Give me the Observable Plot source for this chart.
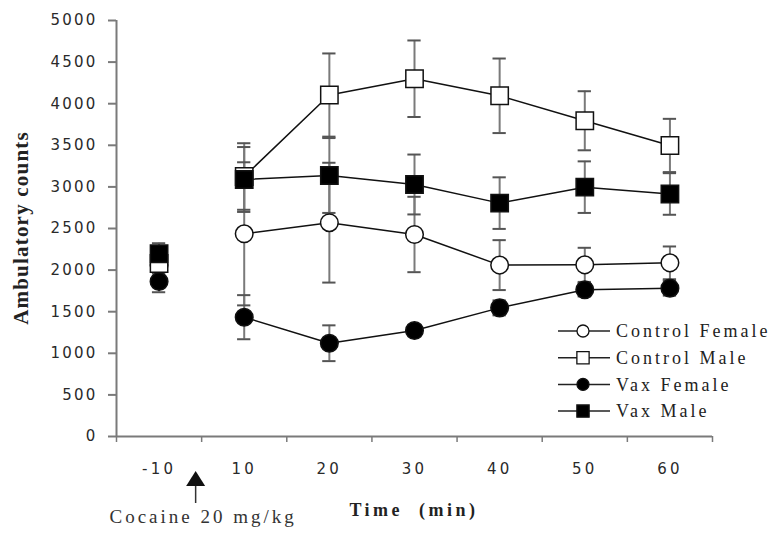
<!DOCTYPE html>
<html><head><meta charset="utf-8">
<script src="https://cdn.jsdelivr.net/npm/d3@7"></script>
<script src="https://cdn.jsdelivr.net/npm/@observablehq/plot@0.6"></script>
<style>
html,body{margin:0;padding:0;background:#fff;}
#chart{position:relative;width:782px;height:542px;}
g[aria-label="y-axis tick label"] text {
  letter-spacing:2.2px; font-family:'DejaVu Sans',Verdana,sans-serif !important; font-size:15px !important;}
g[aria-label="x-axis tick label"] text {
  letter-spacing:3.2px; font-family:'DejaVu Sans',Verdana,sans-serif !important; font-size:15px !important;}
</style></head><body><div id="chart"></div>
<script>
// ---- data ----
const times = ["-10","10","20","30","40","50","60"];
const seriesNames = ["Control Female","Control Male","Vax Female","Vax Male"];
const controlFemale    = [2060, 2436, 2570, 2428, 2060, 2063, 2087];
const controlFemaleErr = [ 100,  860,  720,  453,  300,  205,  197];
const controlMale      = [2080, 3125, 4104, 4300, 4095, 3795, 3498];
const controlMaleErr   = [ 100,  400,  500,  460,  448,  355,  320];
const vaxFemale        = [1863, 1434, 1121, 1274, 1546, 1763, 1783];
const vaxFemaleErr     = [ 129,  265,  215,   60,   90,   80,   90];
const vaxMale          = [2197, 3089, 3137, 3029, 2805, 2997, 2915];
const vaxMaleErr       = [ 126,  390,  450,  360,  310,  310,  250];
const yTicks = [0,500,1000,1500,2000,2500,3000,3500,4000,4500,5000];
const yTitle = "Ambulatory counts";
const xTitle = "Time  (min)";
const arrowLabel = "Cocaine 20 mg/kg";

const valueSets = {
  "Control Female": [controlFemale, controlFemaleErr],
  "Control Male": [controlMale, controlMaleErr],
  "Vax Female": [vaxFemale, vaxFemaleErr],
  "Vax Male": [vaxMale, vaxMaleErr]
};
const data = [];
seriesNames.forEach(s => times.forEach((t, i) => data.push({
  series: s, time: t, pos: i + 0.5, value: valueSets[s][0][i], err: valueSets[s][1][i]
})));

const style = {
  "Control Female": {symbol: "circle", fill: "white", r: 8.8},
  "Control Male":   {symbol: "square", fill: "white", r: 9.8},
  "Vax Female":     {symbol: "circle", fill: "black", r: 8.8},
  "Vax Male":       {symbol: "square", fill: "black", r: 9.8}
};
const capHalf = 0.078;
const grey = "#7a7a7a";
const serif = "'Liberation Serif','Times New Roman',serif";
const sans = "'DejaVu Sans',Verdana,sans-serif";

const chart = Plot.plot({
  width: 782, height: 542,
  marginLeft: 116, marginRight: 70, marginTop: 20, marginBottom: 106,
  style: {background: "white", overflow: "visible"},
  x: {type: "linear", domain: [0, times.length], axis: null},
  y: {domain: [0, 5000], axis: null},
  marks: [
    Plot.axisY({ticks: yTicks, tickFormat: d => String(d), tickSize: 8, tickPadding: 11, stroke: grey, strokeWidth: 2,
      fill: "#2a2a2a", fontFamily: sans, fontSize: 15, label: null}),
    Plot.axisX({ticks: d3.range(times.length + 1), tickFormat: () => "", tickSize: 6,
      stroke: grey, strokeWidth: 1.5, label: null}),
    Plot.axisX({ticks: times.map((t, i) => i + 0.5), tickFormat: (d) => times[Math.round(d - 0.5)],
      tickSize: 0, tickPadding: 27, fill: "#2a2a2a", fontFamily: sans, fontSize: 15, label: null}),
    Plot.ruleY([0], {stroke: grey, strokeWidth: 2}),
    Plot.ruleX([0], {stroke: grey, strokeWidth: 2}),
    Plot.ruleX(data, {x: "pos", y1: d => d.value - d.err, y2: d => d.value + d.err, stroke: grey, strokeWidth: 2}),
    Plot.ruleY(data, {y: d => d.value + d.err, x1: d => d.pos - capHalf, x2: d => d.pos + capHalf, stroke: "#555", strokeWidth: 2}),
    Plot.ruleY(data, {y: d => d.value - d.err, x1: d => d.pos - capHalf, x2: d => d.pos + capHalf, stroke: "#555", strokeWidth: 2}),
    Plot.line(data.filter(d => d.time !== "-10"), {x: "pos", y: "value", z: "series", stroke: "#111", strokeWidth: 1.5}),
    ...seriesNames.map(s => Plot.dot(data.filter(d => d.series === s), {
      x: "pos", y: "value", symbol: style[s].symbol, r: style[s].r,
      fill: style[s].fill, stroke: "#111", strokeWidth: 1.5
    }))
  ]
});
document.getElementById("chart").appendChild(chart);

// ---- annotations ----
const xs = chart.scale("x"), ys = chart.scale("y");
const svg = d3.select(chart);
const g = svg.append("g");
const frameLeft = xs.apply(0), frameRight = xs.apply(times.length);
const y0 = ys.apply(0);

g.append("text").text(yTitle)
  .attr("transform", `translate(21,${(ys.apply(0) + ys.apply(5000)) / 2}) rotate(-90)`)
  .attr("text-anchor", "middle").attr("dy", "0.35em")
  .style("font-family", serif).style("font-weight", "bold").style("font-size", "21px")
  .style("letter-spacing", "1.2px").attr("fill", "#222");

g.append("text").text(xTitle)
  .attr("x", (frameLeft + frameRight) / 2).attr("y", y0 + 80)
  .attr("text-anchor", "middle")
  .style("font-family", serif).style("font-weight", "bold").style("font-size", "18px")
  .style("letter-spacing", "3.5px").style("white-space", "pre").attr("fill", "#222");

const ax = xs.apply(1) - 5.5;
g.append("path").attr("d", `M${ax},${y0 + 35} L${ax - 9.5},${y0 + 50} L${ax + 9.5},${y0 + 50} Z`).attr("fill", "#111");
g.append("line").attr("x1", ax).attr("x2", ax).attr("y1", y0 + 50).attr("y2", y0 + 67)
  .attr("stroke", "#333").attr("stroke-width", 1.5);
g.append("text").text(arrowLabel)
  .attr("x", xs.apply(1) + 2).attr("y", y0 + 87).attr("text-anchor", "middle")
  .style("font-family", serif).style("font-size", "19px").style("letter-spacing", "3px").attr("fill", "#333");

// legend
const leg = g.append("g");
seriesNames.forEach((s, i) => {
  const yy = 331 + i * 26.7;
  leg.append("line").attr("x1", 558).attr("x2", 610).attr("y1", yy).attr("y2", yy)
    .attr("stroke", "#222").attr("stroke-width", 1.5);
  const sym = d3.symbol(style[s].symbol === "circle" ? d3.symbolCircle : d3.symbolSquare,
    style[s].symbol === "circle" ? Math.PI * 36 : 150)();
  leg.append("path").attr("d", sym).attr("transform", `translate(583,${yy})`)
    .attr("fill", style[s].fill).attr("stroke", "#111").attr("stroke-width", 1.3);
  leg.append("text").text(s).attr("x", 616).attr("y", yy).attr("dy", "0.35em")
    .attr("text-anchor", "start")
    .style("font-family", serif).style("font-size", "18px").style("letter-spacing", "3px").attr("fill", "#222");
});
</script></body></html>
